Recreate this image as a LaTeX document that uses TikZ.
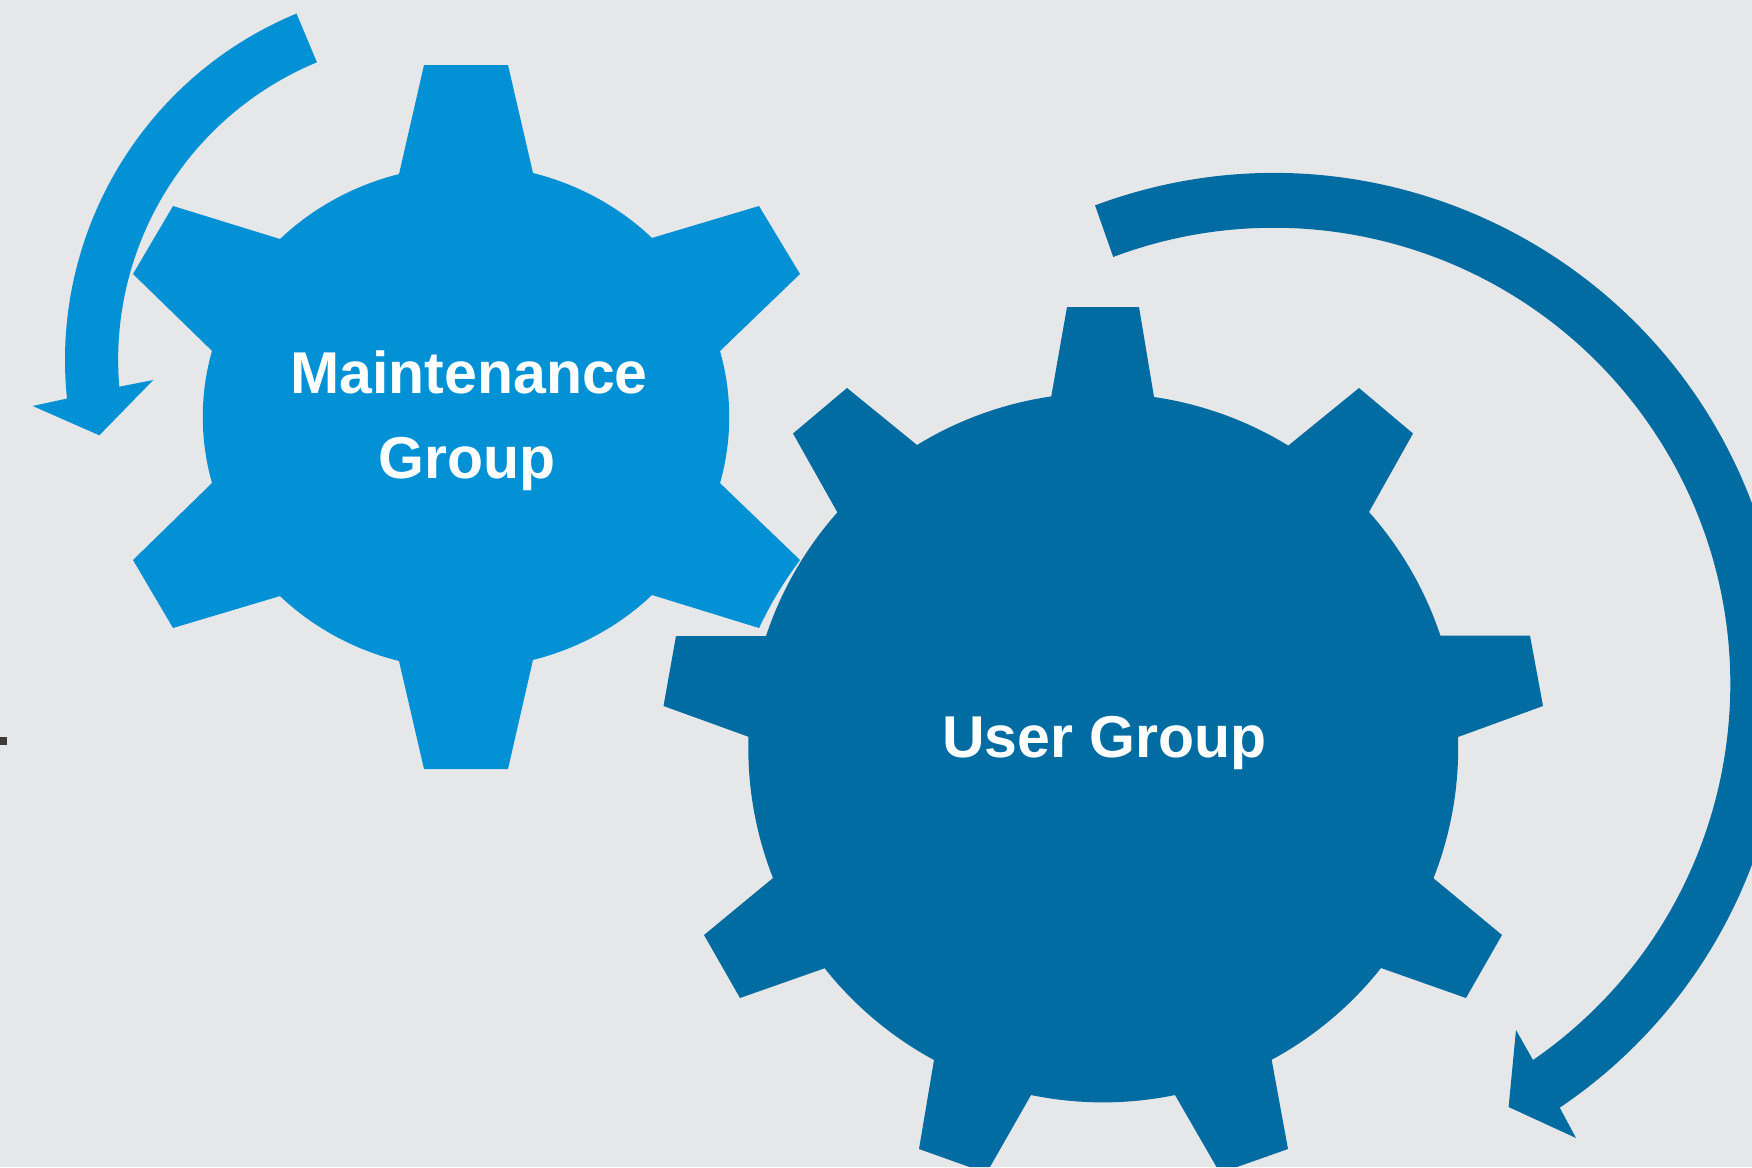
\documentclass[tikz,border=0pt]{standalone}
\usepackage{fontspec}
\setmainfont{Liberation Sans}
\definecolor{my_lightblue}{RGB}{2, 145, 213}
\definecolor{my_darkblue}{RGB}{1, 108, 161}
\definecolor{my_gray}{RGB}{230, 231, 233}
\definecolor{my_mark}{RGB}{63, 58, 54}
\tikzset {
  lightshape/.style = {fill=my_lightblue, draw=none},
  darkshape/.style = {fill=my_darkblue, draw=none},
  gearlabel/.style = {text=white, font=\fontsize{59}{59}\selectfont\bfseries, anchor=base, inner sep=0},
  rim/.style = {x radius=264, y radius=252},
  darkrim/.style = {radius=355}
}

\begin{document}
\begin{tikzpicture}[x=1pt, y=-1pt]

    \useasboundingbox (0,0) rectangle (1752,1167);
    \clip (0,0) rectangle (1752,1167);
    \fill[my_gray] (0,0) rectangle (1752,1167);
    \fill[my_mark] (0,737) rectangle (7,745);

    % maintenance gear
    \path[lightshape] (424,65) -- (508,65) -- (533,173) arc[rim, start angle=-75.3, end angle=-45.2]
        -- (759,206) -- (800,274) -- (720,351) arc[rim, start angle=-15.2, end angle=15.2]
        -- (800,560) to[bend right=5] (759,628) -- (652,595) arc[rim, start angle=45.2, end angle=75.3]
        -- (508,769) -- (424,769) -- (399,661) arc[rim, start angle=104.7, end angle=134.8]
        -- (173,628) -- (133,560) -- (212,483) arc[rim, start angle=164.8, end angle=195.2]
        -- (133,274) -- (173,206) -- (280,239) arc[rim, start angle=225.2, end angle=255.3] -- cycle;

    % user gear
    \path[darkshape] (1067,307) -- (1139,307) -- (1154,397) arc[darkrim, start angle=-81.7, end angle=-58.5]
        -- (1359,388) -- (1413,433.5) -- (1369,512) arc[darkrim, start angle=-41.6, end angle=-18.4]
        -- (1530,635.6) -- (1543,706) -- (1458,737) arc[darkrim, start angle=-1.8, end angle=21.5]
        -- (1502,935) -- (1466,998) -- (1381,968) arc[darkrim, start angle=38.4, end angle=61.6]
        -- (1288,1149) -- (1237,1167) -- (1216.5,1167) -- (1175,1095) arc[darkrim, start angle=78.3, end angle=101.7]
        -- (990,1167) -- (969.5,1167) -- (919,1149) -- (934,1060) arc[darkrim, start angle=118.4, end angle=141.6]
        -- (740,998) -- (704,935) -- (773,878) arc[darkrim, start angle=158.5, end angle=181.8]
        -- (663.5,706) -- (676,636) -- (766,636) arc[darkrim, start angle=198.4, end angle=221.6]
        -- (793,433.5) -- (847,388) -- (917,445) arc[darkrim, start angle=238.5, end angle=261.7] -- cycle;

    % arrows
    \path[lightshape] (440,360) ++(247.5:375) arc[start angle=247.5, end angle=174.1, radius=375]
        -- (32.7,406) -- (99.3,435.3) -- (153.3,380) -- (119.3,386.7)
        arc[start angle=175.2, end angle=247.5, radius=322] -- cycle;
    \path[darkshape] (1274,684) ++(-110.5:511) arc[start angle=-110.5, end angle=56, radius=511]
        -- (1576,1138) -- (1508.6,1107) -- (1516,1030) -- (1533,1060)
        arc[start angle=55.4, end angle=-110.6, radius=456.5] -- cycle;

    \node[gearlabel] (maintenance) at (469,393) {Maintenance};
    \node[gearlabel] (group) at (467,478) {Group};
    \node[gearlabel] (user) at (1104.5,757.5) {User Group};

\end{tikzpicture}
\end{document}
